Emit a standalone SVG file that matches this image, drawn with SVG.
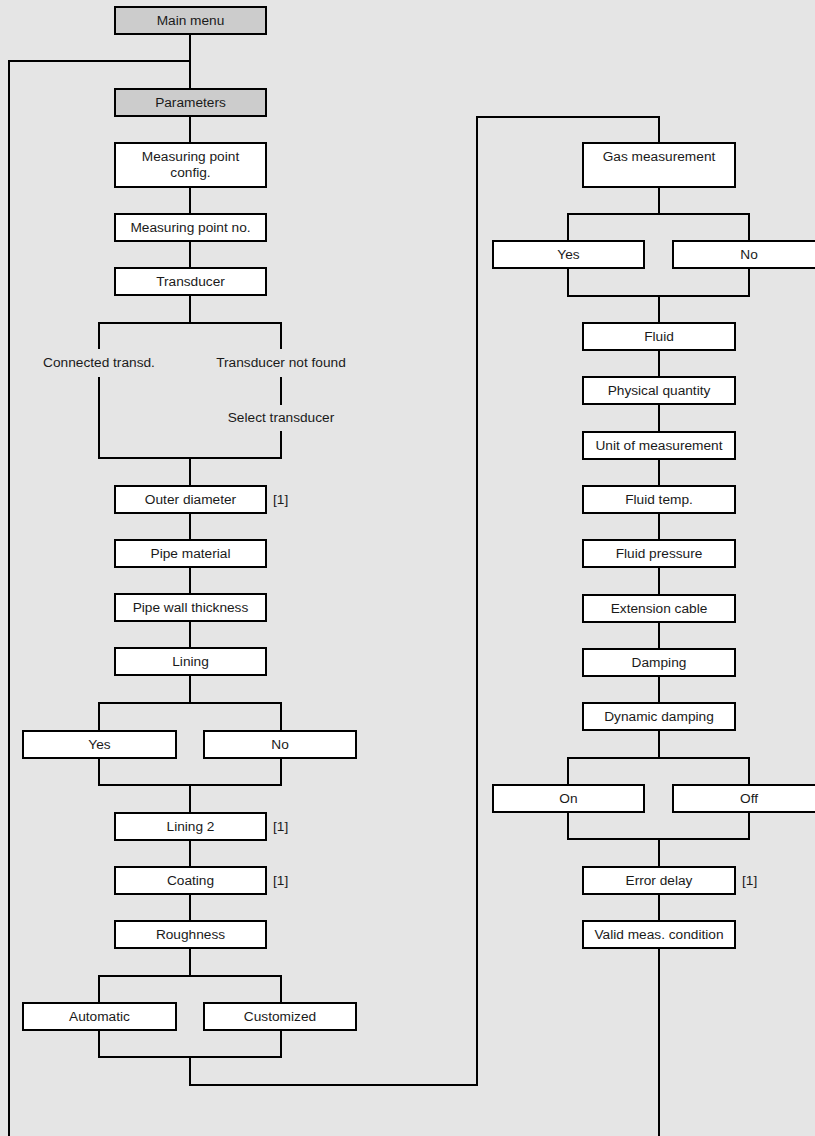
<svg xmlns="http://www.w3.org/2000/svg" width="815" height="1136" viewBox="0 0 815 1136">
<style>
.bg{fill:#e5e5e5}
.box{fill:#ffffff;stroke:#000;stroke-width:2}
.gray{fill:#cccccc;stroke:#000;stroke-width:2}
.ln{fill:none;stroke:#000;stroke-width:2}
text{font-family:"Liberation Sans",Arial,sans-serif;font-size:13.7px;fill:#1a1a1a}
.c{text-anchor:middle}
</style>
<rect class="bg" x="0" y="0" width="815" height="1136"/>
<g id="connectors">
<polyline class="ln" points="190,34 190,89"/>
<polyline class="ln" points="190,61 9,61 9,1136"/>
<polyline class="ln" points="190,116 190,143"/>
<polyline class="ln" points="190,187 190,214"/>
<polyline class="ln" points="190,241 190,268"/>
<polyline class="ln" points="190,295 190,323"/>
<polyline class="ln" points="99,349 99,323 281,323 281,349"/>
<polyline class="ln" points="281,377 281,405"/>
<polyline class="ln" points="99,377 99,458 281,458 281,431"/>
<polyline class="ln" points="190,458 190,486"/>
<polyline class="ln" points="190,513 190,540"/>
<polyline class="ln" points="190,567 190,594"/>
<polyline class="ln" points="190,621 190,648"/>
<polyline class="ln" points="190,675 190,703"/>
<polyline class="ln" points="99,731 99,703 281,703 281,731"/>
<polyline class="ln" points="99,758 99,785 281,785 281,758"/>
<polyline class="ln" points="190,785 190,813"/>
<polyline class="ln" points="190,840 190,867"/>
<polyline class="ln" points="190,894 190,921"/>
<polyline class="ln" points="190,948 190,976"/>
<polyline class="ln" points="99,1003 99,976 281,976 281,1003"/>
<polyline class="ln" points="99,1030 99,1057 281,1057 281,1030"/>
<polyline class="ln" points="190,1057 190,1085 477,1085 477,117 659,117 659,143"/>
<polyline class="ln" points="659,187 659,214"/>
<polyline class="ln" points="568,241 568,214 749,214 749,241"/>
<polyline class="ln" points="568,268 568,296 749,296 749,268"/>
<polyline class="ln" points="659,296 659,323"/>
<polyline class="ln" points="659,350 659,377"/>
<polyline class="ln" points="659,404 659,432"/>
<polyline class="ln" points="659,459 659,486"/>
<polyline class="ln" points="659,513 659,540"/>
<polyline class="ln" points="659,567 659,595"/>
<polyline class="ln" points="659,622 659,649"/>
<polyline class="ln" points="659,676 659,703"/>
<polyline class="ln" points="659,730 659,758"/>
<polyline class="ln" points="568,785 568,758 749,758 749,785"/>
<polyline class="ln" points="568,812 568,839 749,839 749,812"/>
<polyline class="ln" points="659,839 659,867"/>
<polyline class="ln" points="659,894 659,921"/>
<polyline class="ln" points="659,948 659,1136"/>
</g>
<g id="main-menu"><rect class="gray" x="115" y="7" width="151" height="27"/><text class="c" x="190.5" y="24.5">Main menu</text></g>
<g id="parameters"><rect class="gray" x="115" y="89" width="151" height="27"/><text class="c" x="190.5" y="106.5">Parameters</text></g>
<g id="mp-config"><rect class="box" x="115" y="143" width="151" height="44"/><text class="c" x="190.5" y="160.5">Measuring point</text><text class="c" x="190.5" y="176.5">config.</text></g>
<g id="mp-no"><rect class="box" x="115" y="214" width="151" height="27"/><text class="c" x="190.5" y="231.5">Measuring point no.</text></g>
<g id="transducer"><rect class="box" x="115" y="268" width="151" height="27"/><text class="c" x="190.5" y="285.5">Transducer</text></g>
<g id="connected-transd"><text class="c" x="99" y="367">Connected transd.</text></g>
<g id="transducer-not-found"><text class="c" x="281" y="367">Transducer not found</text></g>
<g id="select-transducer"><text class="c" x="281" y="422">Select transducer</text></g>
<g id="outer-diameter"><rect class="box" x="115" y="486" width="151" height="27"/><text class="c" x="190.5" y="503.5">Outer diameter</text><text x="273" y="503.5">[1]</text></g>
<g id="pipe-material"><rect class="box" x="115" y="540" width="151" height="27"/><text class="c" x="190.5" y="557.5">Pipe material</text></g>
<g id="pipe-wall"><rect class="box" x="115" y="594" width="151" height="27"/><text class="c" x="190.5" y="611.5">Pipe wall thickness</text></g>
<g id="lining"><rect class="box" x="115" y="648" width="151" height="27"/><text class="c" x="190.5" y="665.5">Lining</text></g>
<g id="lining-yes"><rect class="box" x="23" y="731" width="153" height="27"/><text class="c" x="99.5" y="748.5">Yes</text></g>
<g id="lining-no"><rect class="box" x="204" y="731" width="152" height="27"/><text class="c" x="280" y="748.5">No</text></g>
<g id="lining2"><rect class="box" x="115" y="813" width="151" height="27"/><text class="c" x="190.5" y="830.5">Lining 2</text><text x="273" y="830.5">[1]</text></g>
<g id="coating"><rect class="box" x="115" y="867" width="151" height="27"/><text class="c" x="190.5" y="884.5">Coating</text><text x="273" y="884.5">[1]</text></g>
<g id="roughness"><rect class="box" x="115" y="921" width="151" height="27"/><text class="c" x="190.5" y="938.5">Roughness</text></g>
<g id="automatic"><rect class="box" x="23" y="1003" width="153" height="27"/><text class="c" x="99.5" y="1020.5">Automatic</text></g>
<g id="customized"><rect class="box" x="204" y="1003" width="152" height="27"/><text class="c" x="280" y="1020.5">Customized</text></g>
<g id="gas-measurement"><rect class="box" x="583" y="143" width="152" height="44"/><text class="c" x="659" y="160.5">Gas measurement</text></g>
<g id="gas-yes"><rect class="box" x="493" y="241" width="151" height="27"/><text class="c" x="568.5" y="258.5">Yes</text></g>
<g id="gas-no"><rect class="box" x="673" y="241" width="152" height="27"/><text class="c" x="749" y="258.5">No</text></g>
<g id="fluid"><rect class="box" x="583" y="323" width="152" height="27"/><text class="c" x="659" y="340.5">Fluid</text></g>
<g id="physical-quantity"><rect class="box" x="583" y="377" width="152" height="27"/><text class="c" x="659" y="394.5">Physical quantity</text></g>
<g id="unit"><rect class="box" x="583" y="432" width="152" height="27"/><text class="c" x="659" y="449.5">Unit of measurement</text></g>
<g id="fluid-temp"><rect class="box" x="583" y="486" width="152" height="27"/><text class="c" x="659" y="503.5">Fluid temp.</text></g>
<g id="fluid-pressure"><rect class="box" x="583" y="540" width="152" height="27"/><text class="c" x="659" y="557.5">Fluid pressure</text></g>
<g id="extension-cable"><rect class="box" x="583" y="595" width="152" height="27"/><text class="c" x="659" y="612.5">Extension cable</text></g>
<g id="damping"><rect class="box" x="583" y="649" width="152" height="27"/><text class="c" x="659" y="666.5">Damping</text></g>
<g id="dynamic-damping"><rect class="box" x="583" y="703" width="152" height="27"/><text class="c" x="659" y="720.5">Dynamic damping</text></g>
<g id="on"><rect class="box" x="493" y="785" width="151" height="27"/><text class="c" x="568.5" y="802.5">On</text></g>
<g id="off"><rect class="box" x="673" y="785" width="152" height="27"/><text class="c" x="749" y="802.5">Off</text></g>
<g id="error-delay"><rect class="box" x="583" y="867" width="152" height="27"/><text class="c" x="659" y="884.5">Error delay</text><text x="742" y="884.5">[1]</text></g>
<g id="valid-meas"><rect class="box" x="583" y="921" width="152" height="27"/><text class="c" x="659" y="938.5">Valid meas. condition</text></g>
</svg>
